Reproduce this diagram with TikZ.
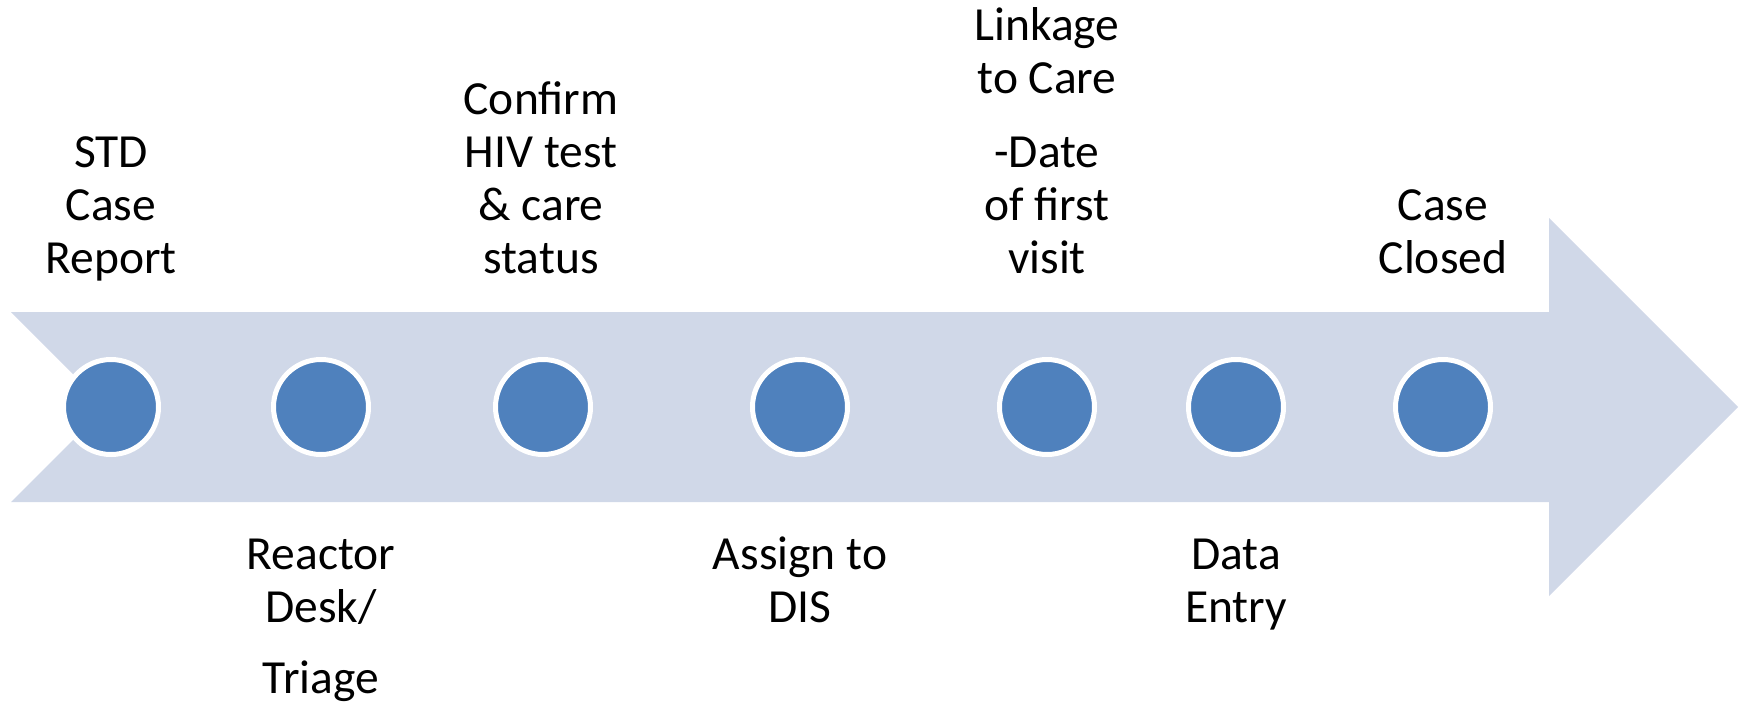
\documentclass[tikz,border=0pt]{standalone}
\usepackage{fontspec}
\setmainfont{Carlito}
\definecolor{arrowfill}{HTML}{D0D8E8}
\definecolor{dotblue}{HTML}{4F81BD}
\begin{document}
\begin{tikzpicture}[x=1pt,y=-1pt,
  dot/.style={circle,fill=dotblue,draw=white,line width=5pt,minimum size=95pt,inner sep=0pt},
  txt/.style={anchor=base,inner sep=0pt,font=\fontsize{47.5}{53}\selectfont,text=black}]
\useasboundingbox (0,0) rectangle (1743,705);
\fill[arrowfill] (11,312) -- (1549,312) -- (1549,218) -- (1738,407) -- (1549,596) -- (1549,502) -- (11,502) -- (106,407) -- cycle;
\node[dot] (c1) at (111,407) {};
\node[dot] (c2) at (321,407) {};
\node[dot] (c3) at (543,407) {};
\node[dot] (c4) at (800,407) {};
\node[dot] (c5) at (1047,407) {};
\node[dot] (c6) at (1236,407) {};
\node[dot] (c7) at (1443,407) {};
% top labels
\node[txt] (t1a) at (111,167) {STD};
\node[txt] (t1b) at (111,220) {Case};
\node[txt] (t1c) at (111,273) {Report};
\node[txt] (t3a) at (541,114) {Confirm};
\node[txt] (t3b) at (541,167) {HIV test};
\node[txt] (t3c) at (541,220) {\& care};
\node[txt] (t3d) at (541,273) {status};
\node[txt] (t5a) at (1047,40) {Linkage};
\node[txt] (t5b) at (1047,93) {to Care};
\node[txt] (t5c) at (1047,167) {-Date};
\node[txt] (t5d) at (1047,220) {of first};
\node[txt] (t5e) at (1047,273) {visit};
\node[txt] (t7a) at (1443,220) {Case};
\node[txt] (t7b) at (1443,273) {Closed};
% bottom labels
\node[txt] (t2a) at (321,569) {Reactor};
\node[txt] (t2b) at (321,622) {Desk/};
\node[txt] (t2c) at (321,693) {Triage};
\node[txt] (t4a) at (800,569) {Assign to};
\node[txt] (t4b) at (800,622) {DIS};
\node[txt] (t6a) at (1236,569) {Data};
\node[txt] (t6b) at (1236,622) {Entry};
\end{tikzpicture}
\end{document}
